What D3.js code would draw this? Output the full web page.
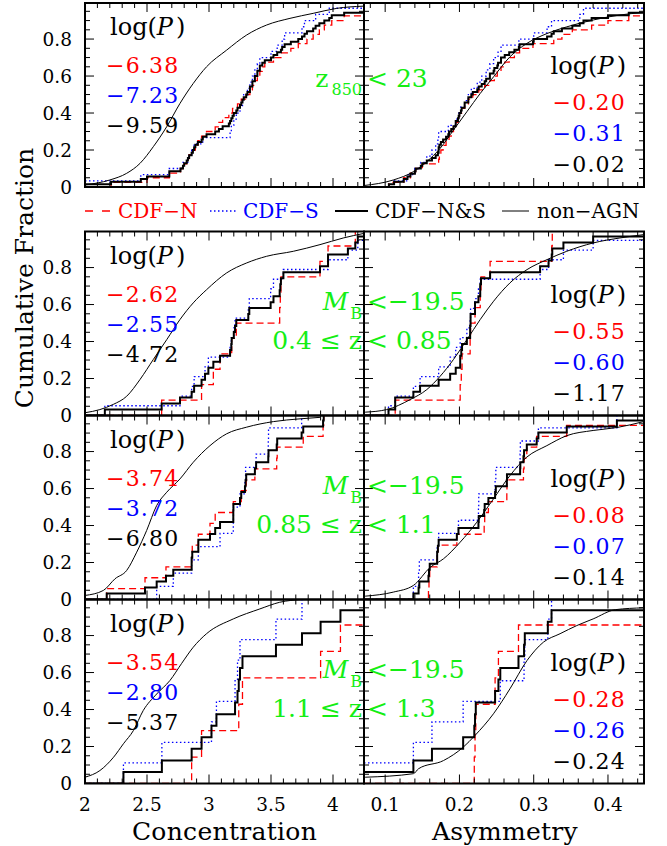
<!DOCTYPE html>
<html>
<head>
<meta charset="utf-8">
<script src="https://cdn.jsdelivr.net/npm/d3@7"></script>
<style>
  body { margin: 0; background: #fff; }
  svg text { font-family: 'DejaVu Serif', serif; }
</style>
</head>
<body>
<div id="chart"></div>
<script>
// ---- data: measured values of each sample (N = CDF-N, S = CDF-S) ----
// row 1: z850 < 23
const concN_z850 = [2.21, 2.50, 2.68, 2.77, 2.80, 2.82, 2.84, 2.87, 2.89, 2.91, 2.94, 2.98, 3.05, 3.08,
  3.11, 3.16, 3.19, 3.23, 3.26, 3.30, 3.33, 3.35, 3.37, 3.39, 3.41, 3.43, 3.45, 3.52, 3.58, 3.66,
  3.72, 3.79, 3.84, 3.89, 3.93, 3.99, 4.09, 4.30, 4.45, 4.60];
const concS_z850 = [1.98, 2.45, 2.68, 2.79, 2.83, 2.86, 2.88, 2.95, 3.17, 3.18, 3.20, 3.22, 3.25, 3.27,
  3.28, 3.31, 3.33, 3.35, 3.37, 3.39, 3.41, 3.50, 3.55, 3.59, 3.61, 3.75, 3.77, 3.86, 3.97, 4.50];
const asymN_z850 = [0.105, 0.125, 0.134, 0.141, 0.150, 0.172, 0.173, 0.175, 0.178, 0.182, 0.186, 0.189,
  0.192, 0.195, 0.198, 0.200, 0.203, 0.207, 0.212, 0.218, 0.226, 0.234, 0.241, 0.247, 0.251, 0.256,
  0.261, 0.267, 0.274, 0.281, 0.299, 0.327, 0.338, 0.352, 0.378, 0.400, 0.428, 0.46, 0.50, 0.55];
const asymS_z850 = [0.112, 0.130, 0.140, 0.148, 0.156, 0.163, 0.168, 0.171, 0.172, 0.185, 0.195, 0.199,
  0.202, 0.207, 0.212, 0.216, 0.224, 0.230, 0.236, 0.241, 0.246, 0.252, 0.256, 0.280, 0.300, 0.318,
  0.324, 0.362, 0.367, 0.50];

// row 2: 0.4 <= z < 0.85
const concN_lowz = [2.618, 2.94, 3.035, 3.089, 3.183, 3.22, 3.57, 3.575, 3.58, 3.895, 3.96, 4.18];
const concS_lowz = [2.16, 2.766, 2.86, 2.88, 2.968, 2.995, 3.17, 3.18, 3.20, 3.21, 3.317, 3.325,
  3.497, 3.52, 3.60, 3.96, 4.12, 4.20, 4.35];
const asymN_lowz = [0.1135, 0.201, 0.2025, 0.2035, 0.2144, 0.215, 0.221, 0.228, 0.229, 0.2413, 0.3243, 0.325];
const asymS_lowz = [0.1045, 0.1135, 0.138, 0.147, 0.172, 0.1875, 0.195, 0.201, 0.21, 0.2144, 0.215,
  0.221, 0.2256, 0.228, 0.3086, 0.32, 0.34, 0.38, 0.47];

// row 3: 0.85 <= z < 1.1
const concN_midz = [2.175, 2.484, 2.653, 2.86, 2.865, 2.914, 3.008, 3.05, 3.196, 3.26, 3.30, 3.37,
  3.546, 3.55, 3.76, 3.92, 3.925];
const concS_midz = [2.578, 2.712, 2.86, 2.914, 3.089, 3.196, 3.197, 3.25, 3.29, 3.295, 3.38, 3.478, 3.48, 3.747];
const asymN_midz = [0.1583, 0.159, 0.16, 0.17, 0.171, 0.1965, 0.2333, 0.234, 0.239, 0.2638, 0.264,
  0.2862, 0.287, 0.2907, 0.304, 0.3445, 0.47];
const asymS_midz = [0.138, 0.145, 0.146, 0.17, 0.172, 0.1987, 0.2256, 0.226, 0.248, 0.249, 0.2817,
  0.282, 0.3063, 0.412];

// row 4: 1.1 <= z < 1.3
const concN_highz = [2.86, 2.94, 3.24, 3.27, 3.90, 4.06, 4.30];
const concS_highz = [2.31, 2.62, 3.02, 3.06, 3.21, 3.23, 3.25, 3.54, 3.75];
const asymN_highz = [0.220, 0.221, 0.222, 0.248, 0.2525, 0.2795, 0.50];
const asymS_highz = [0.05, 0.138, 0.163, 0.205, 0.255, 0.287, 0.288, 0.319, 0.324];

// non-AGN comparison curves, [value, cumulative fraction]
const concNonAgn_z850 = [[2.0, 0.011], [2.2, 0.038], [2.336, 0.074], [2.444, 0.128], [2.551, 0.218],
  [2.659, 0.326], [2.766, 0.452], [2.873, 0.56], [2.98, 0.65], [3.142, 0.74], [3.304, 0.822],
  [3.465, 0.876], [3.653, 0.912], [3.84, 0.939], [4.03, 0.966], [4.244, 0.978]];
const asymNonAgn_z850 = [[0.0715, 0.008], [0.111, 0.038], [0.138, 0.083], [0.156, 0.137], [0.174, 0.209],
  [0.192, 0.308], [0.21, 0.407], [0.228, 0.506], [0.246, 0.596], [0.268, 0.704], [0.291, 0.777],
  [0.318, 0.83], [0.3445, 0.866], [0.38, 0.903], [0.416, 0.93], [0.448, 0.944]];
const concNonAgn_lowz = [[2.0, 0.015], [2.12, 0.032], [2.228, 0.06], [2.336, 0.104], [2.444, 0.195],
  [2.551, 0.303], [2.659, 0.41], [2.766, 0.519], [2.873, 0.609], [2.98, 0.68], [3.142, 0.771],
  [3.304, 0.825], [3.465, 0.861], [3.68, 0.888], [3.895, 0.924], [4.083, 0.96], [4.244, 0.984]];
const asymNonAgn_lowz = [[0.073, 0.018], [0.102, 0.032], [0.1336, 0.086], [0.156, 0.14], [0.174, 0.212],
  [0.192, 0.303], [0.21, 0.41], [0.228, 0.519], [0.246, 0.618], [0.268, 0.717], [0.291, 0.789],
  [0.318, 0.843], [0.3445, 0.888], [0.38, 0.933], [0.416, 0.96], [0.448, 0.978]];
const concNonAgn_midz = [[2.0, 0.022], [2.148, 0.049], [2.242, 0.112], [2.336, 0.157], [2.417, 0.256],
  [2.497, 0.373], [2.578, 0.508], [2.659, 0.58], [2.766, 0.652], [2.873, 0.742], [3.008, 0.832],
  [3.142, 0.896], [3.304, 0.932], [3.519, 0.962], [3.734, 0.977], [3.895, 0.985]];
const asymNonAgn_midz = [[0.073, 0.018], [0.111, 0.04], [0.138, 0.076], [0.161, 0.175], [0.1785, 0.22],
  [0.201, 0.31], [0.2234, 0.418], [0.2458, 0.544], [0.268, 0.67], [0.2907, 0.77], [0.3177, 0.832],
  [0.3445, 0.886], [0.38, 0.914], [0.412, 0.93], [0.448, 0.962]];
const concNonAgn_highz = [[2.0, 0.034], [2.12, 0.07], [2.23, 0.142], [2.31, 0.215], [2.39, 0.286],
  [2.47, 0.395], [2.578, 0.484], [2.685, 0.557], [2.78, 0.65], [2.873, 0.737], [2.98, 0.81],
  [3.196, 0.89], [3.41, 0.944], [3.57, 0.98], [3.75, 0.995]];
const asymNonAgn_highz = [[0.073, 0.034], [0.138, 0.053], [0.145, 0.08], [0.1785, 0.124], [0.205, 0.196],
  [0.221, 0.26], [0.2458, 0.377], [0.268, 0.512], [0.291, 0.665], [0.313, 0.764], [0.3355, 0.81],
  [0.358, 0.854], [0.38, 0.89], [0.41, 0.94], [0.448, 0.95]];

// K-S probabilities, [N, S, N&S]
const logPConc = [[-6.38, -7.23, -9.59], [-2.62, -2.55, -4.72], [-3.74, -3.72, -6.80], [-3.54, -2.80, -5.37]];
const logPAsym = [[-0.20, -0.31, -0.02], [-0.55, -0.60, -1.17], [-0.08, -0.07, -0.14], [-0.28, -0.26, -0.24]];

const zRanges = [null, ['0.4 ≤ z', '< 0.85'], ['0.85 ≤ z', '< 1.1'], ['1.1 ≤ z', '< 1.3']];

const concTicks = [2, 2.5, 3, 3.5, 4];
const asymTicks = [0.1, 0.2, 0.3, 0.4];
const fracTicks = [0, 0.2, 0.4, 0.6, 0.8];

const legendItems = ['CDF−N', 'CDF−S', 'CDF−N&S', 'non−AGN'];

// ---- layout ----
const width = 667;
const height = 846;
const colL = 85;
const colM = 364;
const colR = 644;
const rowTops = [3, 231.5, 415.5, 599.5];
const rowH = 184;
const green = '#14ee14';

const rows = [
  { concN: concN_z850, concS: concS_z850, asymN: asymN_z850, asymS: asymS_z850,
    concRef: concNonAgn_z850, asymRef: asymNonAgn_z850 },
  { concN: concN_lowz, concS: concS_lowz, asymN: asymN_lowz, asymS: asymS_lowz,
    concRef: concNonAgn_lowz, asymRef: asymNonAgn_lowz },
  { concN: concN_midz, concS: concS_midz, asymN: asymN_midz, asymS: asymS_midz,
    concRef: concNonAgn_midz, asymRef: asymNonAgn_midz },
  { concN: concN_highz, concS: concS_highz, asymN: asymN_highz, asymS: asymS_highz,
    concRef: concNonAgn_highz, asymRef: asymNonAgn_highz },
];

const xConc = d3.scaleLinear().domain([2, 4.25]).range([colL, colM]);
const xAsym = d3.scaleLinear().domain([0.0715, 0.4485]).range([colM, colR]);
const fmt = d3.format('.2f');

const svg = d3
  .select('#chart')
  .append('svg')
  .attr('width', width)
  .attr('height', height)
  .style('background', '#fff');

// empirical CDF of a sample as [x, F] points, for a step-after curve
const ecdfPoints = (values, x) => {
  const sorted = values.slice().sort(d3.ascending);
  const [x0, x1] = x.domain();
  const n = sorted.length;
  let k = sorted.filter((v) => v <= x0).length;
  const pts = [[x0, k / n]];
  sorted
    .filter((v) => v > x0 && v < x1)
    .forEach((v) => {
      k += 1;
      pts.push([v, k / n]);
    });
  pts.push([x1, k / n]);
  return pts;
};

const isMultiple = (v, step) => Math.abs(v / step - Math.round(v / step)) < 1e-6;

const drawPanel = (rowIdx, side) => {
  const top = rowTops[rowIdx];
  const x = side === 'conc' ? xConc : xAsym;
  const y = d3.scaleLinear().domain([0, 0.995]).range([top + rowH, top]);
  const row = rows[rowIdx];
  const nVals = side === 'conc' ? row.concN : row.asymN;
  const sVals = side === 'conc' ? row.concS : row.asymS;
  const refPts = side === 'conc' ? row.concRef : row.asymRef;
  const [xa, xb] = x.range();
  const clipId = `clip-${rowIdx}-${side}`;

  svg
    .append('clipPath')
    .attr('id', clipId)
    .append('rect')
    .attr('x', xa)
    .attr('y', top)
    .attr('width', xb - xa)
    .attr('height', rowH);

  const g = svg.append('g').attr('clip-path', `url(#${clipId})`);
  const step = d3.line().x((d) => x(d[0])).y((d) => y(d[1])).curve(d3.curveStepAfter);
  const smooth = d3.line().x((d) => x(d[0])).y((d) => y(d[1])).curve(d3.curveMonotoneX);

  g.append('path')
    .attr('d', step(ecdfPoints(nVals, x)))
    .attr('fill', 'none')
    .attr('stroke', '#ff0000')
    .attr('stroke-width', 1.3)
    .attr('stroke-dasharray', '7,4');

  g.append('path')
    .attr('d', step(ecdfPoints(sVals, x)))
    .attr('fill', 'none')
    .attr('stroke', '#0000ff')
    .attr('stroke-width', 1.3)
    .attr('stroke-dasharray', '1.5,2.5');

  g.append('path')
    .attr('d', smooth(refPts))
    .attr('fill', 'none')
    .attr('stroke', '#000')
    .attr('stroke-width', 1);

  g.append('path')
    .attr('d', step(ecdfPoints(nVals.concat(sVals), x)))
    .attr('fill', 'none')
    .attr('stroke', '#000')
    .attr('stroke-width', 2);

  // frame and inward ticks
  const frame = svg.append('g').attr('stroke', '#000').attr('fill', 'none');
  frame
    .append('rect')
    .attr('x', xa)
    .attr('y', top)
    .attr('width', xb - xa)
    .attr('height', rowH)
    .attr('stroke-width', 2);

  const xMinor = side === 'conc' ? d3.range(2.1, 4.25, 0.1) : d3.range(0.08, 0.449, 0.02);
  const xMajorStep = side === 'conc' ? 0.5 : 0.1;
  xMinor.forEach((v) => {
    const len = isMultiple(v, xMajorStep) ? 9 : 5;
    frame.append('line').attr('x1', x(v)).attr('x2', x(v))
      .attr('y1', top + rowH).attr('y2', top + rowH - len).attr('stroke-width', 1);
    frame.append('line').attr('x1', x(v)).attr('x2', x(v))
      .attr('y1', top).attr('y2', top + len).attr('stroke-width', 1);
  });
  d3.range(0.05, 0.99, 0.05).forEach((v) => {
    const len = isMultiple(v, 0.2) ? 9 : 5;
    frame.append('line').attr('x1', xa).attr('x2', xa + len)
      .attr('y1', y(v)).attr('y2', y(v)).attr('stroke-width', 1);
    frame.append('line').attr('x1', xb).attr('x2', xb - len)
      .attr('y1', y(v)).attr('y2', y(v)).attr('stroke-width', 1);
  });

  // y tick labels on the left column
  if (side === 'conc') {
    svg
      .append('g')
      .selectAll('text')
      .data(fracTicks)
      .enter()
      .append('text')
      .attr('x', 72)
      .attr('y', (d) => y(d))
      .attr('dy', '0.36em')
      .attr('text-anchor', 'end')
      .attr('font-size', 18.5)
      .text((d) => String(d));
  }

  // x tick labels on the bottom row
  if (rowIdx === rows.length - 1) {
    svg
      .append('g')
      .selectAll('text')
      .data(side === 'conc' ? concTicks : asymTicks)
      .enter()
      .append('text')
      .attr('x', (d) => x(d))
      .attr('y', top + rowH + 27)
      .attr('text-anchor', 'middle')
      .attr('font-size', 18.5)
      .text((d) => String(d));
  }

  // K-S probabilities
  const probs = side === 'conc' ? logPConc[rowIdx] : logPAsym[rowIdx];
  const colors = ['#ff0000', '#0000ff', '#000'];
  const isLeft = side === 'conc';
  const px = isLeft ? 106 : 626;
  const offsets = isLeft ? [32, 70, 100, 130] : [71, 107, 138, 169];
  const anchor = isLeft ? 'start' : 'end';

  const head = svg
    .append('text')
    .attr('x', isLeft ? 110 : px)
    .attr('y', top + offsets[0])
    .attr('text-anchor', anchor)
    .attr('font-size', 24);
  head.append('tspan').text('log(');
  head.append('tspan').attr('font-style', 'italic').text('P');
  head.append('tspan').attr('dx', 3).text(')');

  probs.forEach((p, i) => {
    svg
      .append('text')
      .attr('x', px)
      .attr('y', top + offsets[i + 1])
      .attr('text-anchor', anchor)
      .attr('font-size', 22)
      .attr('letter-spacing', 1.2)
      .attr('fill', colors[i])
      .text(fmt(p));
  });
};

rows.forEach((row, i) => {
  drawPanel(i, 'conc');
  drawPanel(i, 'asym');
});

// selection labels, split around the column divider
const addSplit = (yPos, leftBuild, rightText) => {
  const lt = svg
    .append('text')
    .attr('x', colM - 2)
    .attr('y', yPos)
    .attr('text-anchor', 'end')
    .attr('font-size', 25)
    .attr('fill', green);
  leftBuild(lt);
  svg
    .append('text')
    .attr('x', colM + 3)
    .attr('y', yPos)
    .attr('font-size', 25)
    .attr('fill', green)
    .text(rightText);
};

addSplit(rowTops[0] + 84, (t) => {
  t.append('tspan').text('z');
  t.append('tspan').attr('font-size', 16).attr('dx', 3).attr('dy', 8).text('850');
}, '< 23');

zRanges.forEach((zr, i) => {
  if (!zr) return;
  const top = rowTops[i];
  addSplit(top + 78, (t) => {
    t.append('tspan').attr('font-style', 'italic').text('M');
    t.append('tspan').attr('font-size', 16).attr('dx', 2).attr('dy', 9).text('B');
  }, '<−19.5');
  addSplit(top + 117, (t) => t.text(zr[0]), zr[1]);
});

// legend between the first and second rows
const legendY = 218;
const legend = svg.append('g');
const legendLines = [
  { x1: 85, x2: 110, color: '#ff0000', w: 1.3, dash: '8,9' },
  { x1: 210, x2: 237, color: '#0000ff', w: 1.3, dash: '1.5,2.5' },
  { x1: 335, x2: 368, color: '#000', w: 2, dash: null },
  { x1: 502, x2: 529, color: '#000', w: 1, dash: null },
];
const legendTextX = [118, 243, 375, 537];
const legendColors = ['#ff0000', '#0000ff', '#000', '#000'];
legendLines.forEach((l, i) => {
  legend
    .append('line')
    .attr('x1', l.x1)
    .attr('x2', l.x2)
    .attr('y1', legendY - 7)
    .attr('y2', legendY - 7)
    .attr('stroke', l.color)
    .attr('stroke-width', l.w)
    .attr('stroke-dasharray', l.dash);
  legend
    .append('text')
    .attr('x', legendTextX[i])
    .attr('y', legendY)
    .attr('font-size', 20)
    .attr('fill', legendColors[i])
    .text(legendItems[i]);
});

// axis titles
svg
  .append('text')
  .attr('x', (colL + colM) / 2)
  .attr('y', 840)
  .attr('text-anchor', 'middle')
  .attr('font-size', 25)
  .attr('letter-spacing', 0.3)
  .text('Concentration');

svg
  .append('text')
  .attr('x', 505)
  .attr('y', 840)
  .attr('text-anchor', 'middle')
  .attr('font-size', 25)
  .attr('letter-spacing', 0.3)
  .text('Asymmetry');

svg
  .append('text')
  .attr('transform', 'translate(33, 278) rotate(-90)')
  .attr('text-anchor', 'middle')
  .attr('font-size', 25)
  .text('Cumulative Fraction');
</script>
</body>
</html>
